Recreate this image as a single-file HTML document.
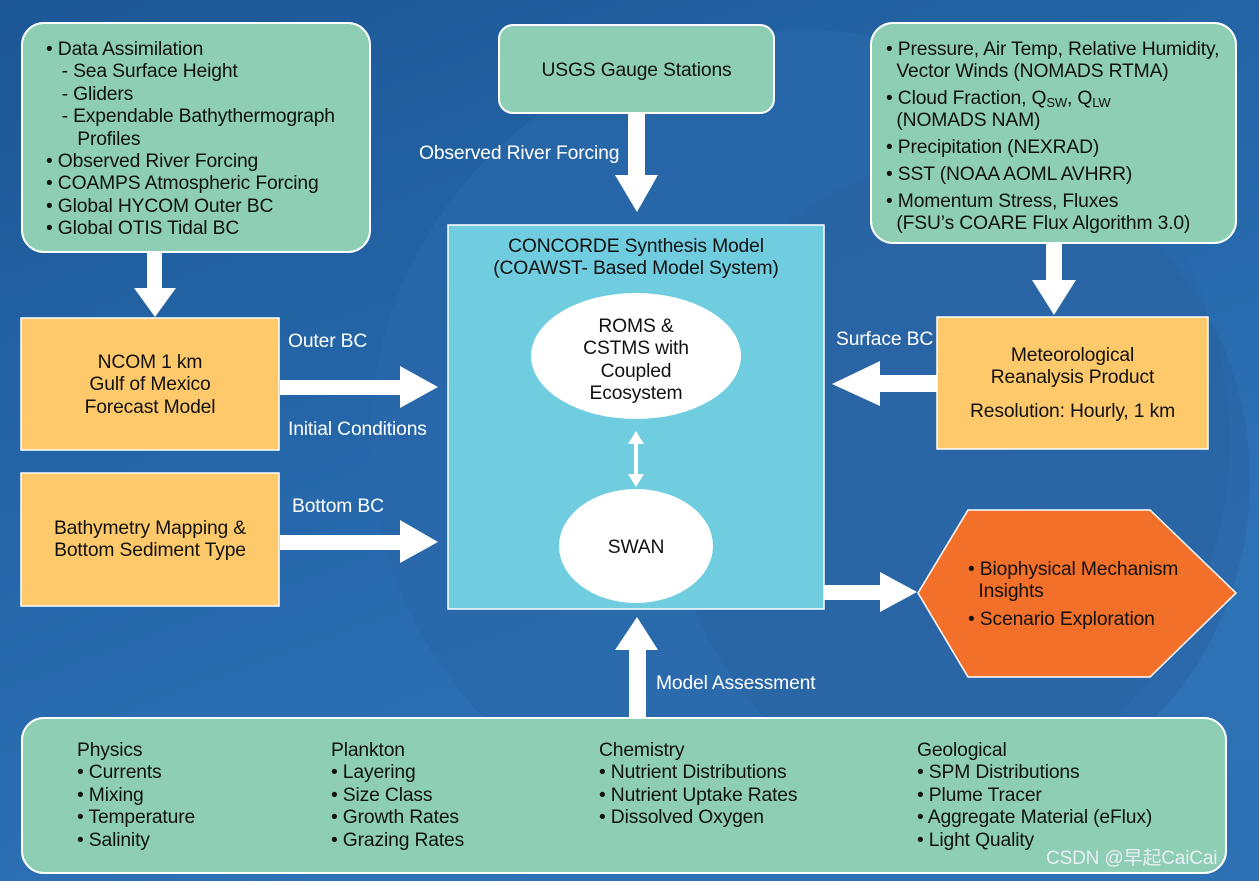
<!DOCTYPE html>
<html><head><meta charset="utf-8"><style>
*{margin:0;padding:0;box-sizing:border-box}
body{width:1259px;height:881px;overflow:hidden;position:relative;font-family:"Liberation Sans","Noto Sans CJK SC",sans-serif;font-size:19.3px;color:#111;letter-spacing:-0.15px}
.bg{position:absolute;left:0;top:0;width:1259px;height:881px;background:linear-gradient(160deg,#1d5796 0%,#2466a8 40%,#2e72b6 75%,#2d70b3 100%)}
.t{position:absolute;line-height:22.4px;white-space:nowrap;margin-top:2px}
.w{color:#fff}
.c{text-align:center}
sub{font-size:13px;position:relative;top:3px;vertical-align:baseline;line-height:0}
</style></head><body>
<div class="bg"></div>
<svg style="position:absolute;left:0;top:0" width="1259" height="881">
<ellipse cx="800" cy="440" rx="430" ry="410" fill="#2a68aa" opacity="0.7"/>
<ellipse cx="960" cy="480" rx="290" ry="320" fill="#2a62a0" opacity="0.55"/>
<rect x="22" y="23" width="348" height="229" rx="22" fill="#8dceb4" stroke="#fff" stroke-width="2"/>
<rect x="499" y="25" width="275" height="88" rx="14" fill="#8dceb4" stroke="#fff" stroke-width="2"/>
<rect x="871" y="23" width="365" height="220" rx="22" fill="#8dceb4" stroke="#fff" stroke-width="2"/>
<rect x="21" y="318" width="258" height="132" fill="#fec96a" stroke="#fff" stroke-width="1.5"/>
<rect x="21" y="473" width="258" height="133" fill="#fec96a" stroke="#fff" stroke-width="1.5"/>
<rect x="937" y="317" width="271" height="132" fill="#fec96a" stroke="#fff" stroke-width="1.5"/>
<rect x="448" y="225" width="376" height="384" fill="#70cde0" stroke="#fff" stroke-width="1.5"/>
<ellipse cx="636" cy="356" rx="105" ry="63" fill="#fff"/>
<ellipse cx="636" cy="546" rx="77" ry="57" fill="#fff"/>
<polygon points="918,593 968,510 1150,510 1236,593 1150,677 968,677" fill="#f3702a" stroke="#fff" stroke-width="1.5"/>
<rect x="22" y="718" width="1204" height="155" rx="22" fill="#8dceb4" stroke="#fff" stroke-width="2"/>
<g fill="#fff">
<polygon points="147,252 162,252 162,288 176,288 155,317 134,288 147,288"/>
<polygon points="628,113 645,113 645,175 658,175 637,212 615,175 628,175"/>
<polygon points="1046,243 1062,243 1062,280 1076,280 1054,315 1032,280 1046,280"/>
<polygon points="280,380 400,380 400,366 438,387 400,408 400,395 280,395"/>
<polygon points="280,535 400,535 400,520 438,542 400,563 400,550 280,550"/>
<polygon points="824,585 880,585 880,572 917,592 880,612 880,600 824,600"/>
<polygon points="937,375 880,375 880,361 832,384 880,406 880,392 937,392"/>
<polygon points="629,718 646,718 646,650 658,650 637,617 615,650 629,650"/>
<polygon points="636,431 644,444 638,444 638,474 644,474 636,487 628,474 634,474 634,444 628,444"/>
</g>
</svg>
<div class="t" style="left:46px;top:37px">• Data Assimilation<br>&nbsp;&nbsp;&nbsp;- Sea Surface Height<br>&nbsp;&nbsp;&nbsp;- Gliders<br>&nbsp;&nbsp;&nbsp;- Expendable Bathythermograph<br>&nbsp;&nbsp;&nbsp;&nbsp;&nbsp;&nbsp;Profiles<br>• Observed River Forcing<br>• COAMPS Atmospheric Forcing<br>• Global HYCOM Outer BC<br>• Global OTIS Tidal BC</div>
<div class="t c" style="left:499px;top:58px;width:275px">USGS Gauge Stations</div>
<div class="t" style="left:886px;top:37px">• Pressure, Air Temp, Relative Humidity,<br>&nbsp;&nbsp;Vector Winds (NOMADS RTMA)</div>
<div class="t" style="left:886px;top:86px">• Cloud Fraction, Q<sub>SW</sub>, Q<sub>LW</sub><br>&nbsp;&nbsp;(NOMADS NAM)</div>
<div class="t" style="left:886px;top:135px">• Precipitation (NEXRAD)</div>
<div class="t" style="left:886px;top:162px">• SST (NOAA AOML AVHRR)</div>
<div class="t" style="left:886px;top:189px">• Momentum Stress, Fluxes<br>&nbsp;&nbsp;(FSU’s COARE Flux Algorithm 3.0)</div>
<div class="t w" style="left:419px;top:141px">Observed River Forcing</div>
<div class="t c" style="left:448px;top:234px;width:376px">CONCORDE Synthesis Model<br>(COAWST- Based Model System)</div>
<div class="t c" style="left:531px;top:314px;width:210px">ROMS &amp;<br>CSTMS with<br>Coupled<br>Ecosystem</div>
<div class="t c" style="left:559px;top:535px;width:154px">SWAN</div>
<div class="t c" style="left:21px;top:350px;width:258px">NCOM 1 km<br>Gulf of Mexico<br>Forecast Model</div>
<div class="t c" style="left:21px;top:516px;width:258px">Bathymetry Mapping &amp;<br>Bottom Sediment Type</div>
<div class="t c" style="left:937px;top:343px;width:271px">Meteorological<br>Reanalysis Product</div>
<div class="t c" style="left:937px;top:399px;width:271px">Resolution: Hourly, 1 km</div>
<div class="t w" style="left:288px;top:329px">Outer BC</div>
<div class="t w" style="left:288px;top:417px">Initial Conditions</div>
<div class="t w" style="left:292px;top:494px">Bottom BC</div>
<div class="t w" style="left:836px;top:327px">Surface BC</div>
<div class="t w" style="left:656px;top:671px">Model Assessment</div>
<div class="t" style="left:968px;top:557px">• Biophysical Mechanism<br>&nbsp;&nbsp;Insights</div>
<div class="t" style="left:968px;top:607px">• Scenario Exploration</div>
<div class="t" style="left:77px;top:738px">Physics<br>• Currents<br>• Mixing<br>• Temperature<br>• Salinity</div>
<div class="t" style="left:331px;top:738px">Plankton<br>• Layering<br>• Size Class<br>• Growth Rates<br>• Grazing Rates</div>
<div class="t" style="left:599px;top:738px">Chemistry<br>• Nutrient Distributions<br>• Nutrient Uptake Rates<br>• Dissolved Oxygen</div>
<div class="t" style="left:917px;top:738px">Geological<br>• SPM Distributions<br>• Plume Tracer<br>• Aggregate Material (eFlux)<br>• Light Quality</div>
<div class="t" style="left:1046px;top:846px;color:#e8eef4;font-size:19px">CSDN @早起CaiCai</div>
</body></html>
